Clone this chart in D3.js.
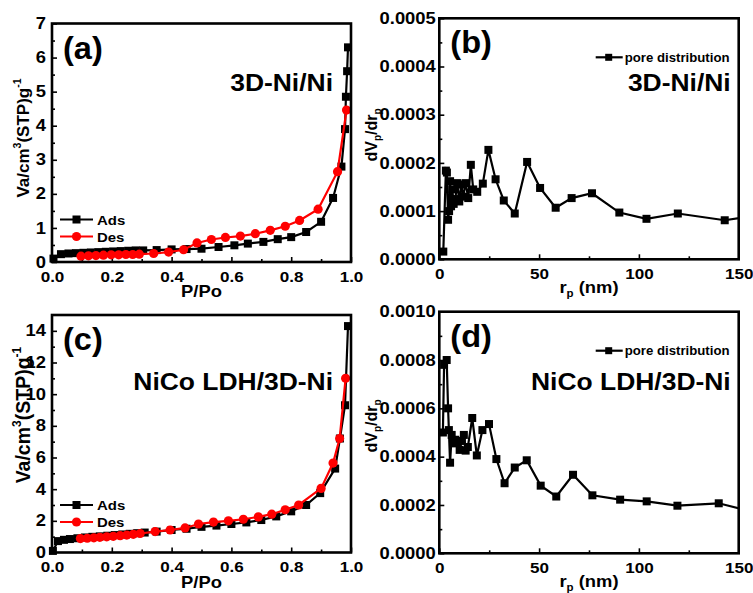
<!DOCTYPE html>
<html><head><meta charset="utf-8">
<script src="https://cdn.jsdelivr.net/npm/d3@7"></script>
<style>
body{margin:0;background:#fff}
svg{display:block}
text{font-family:"Liberation Sans",Arial,sans-serif;font-weight:bold;fill:#000}
</style>
</head><body>
<svg id="chart" width="753" height="593"></svg>
<script>
// ---------------- DATA ----------------
// (a) 3D-Ni/Ni isotherm  [P/Po, Va]
const adsA = [[0.005,0.10],[0.03,0.23],[0.055,0.25],[0.08,0.26],[0.105,0.27],[0.13,0.28],[0.155,0.29],[0.18,0.30],[0.205,0.31],[0.23,0.32],[0.255,0.33],[0.28,0.34],[0.305,0.34],[0.35,0.35],[0.40,0.37],[0.45,0.38],[0.50,0.39],[0.557,0.44],[0.61,0.49],[0.655,0.54],[0.707,0.59],[0.755,0.67],[0.80,0.73],[0.85,0.88],[0.90,1.18],[0.94,1.88],[0.968,2.8],[0.98,3.9],[0.983,4.85],[0.987,5.6],[0.99,6.3]];
const desA = [[0.985,4.46],[0.955,2.65],[0.89,1.55],[0.828,1.22],[0.78,1.05],[0.73,0.93],[0.68,0.83],[0.63,0.76],[0.58,0.72],[0.533,0.66],[0.485,0.56],[0.44,0.36],[0.39,0.29],[0.34,0.25],[0.292,0.23],[0.27,0.22],[0.247,0.22],[0.223,0.21],[0.198,0.21],[0.172,0.20],[0.147,0.19],[0.122,0.18],[0.097,0.17]];
// (c) NiCo LDH/3D-Ni isotherm
const adsC = [[0.003,0.10],[0.02,0.72],[0.04,0.80],[0.06,0.85],[0.085,0.90],[0.11,0.95],[0.135,0.99],[0.16,1.02],[0.185,1.06],[0.21,1.10],[0.235,1.14],[0.26,1.18],[0.285,1.22],[0.31,1.26],[0.35,1.32],[0.40,1.42],[0.45,1.50],[0.50,1.62],[0.55,1.70],[0.60,1.80],[0.65,1.90],[0.70,2.05],[0.75,2.28],[0.80,2.60],[0.85,3.00],[0.897,3.75],[0.947,5.30],[0.963,7.20],[0.98,9.30],[0.99,14.3]];
const desC = [[0.982,11.0],[0.962,7.2],[0.94,5.65],[0.90,4.05],[0.825,3.0],[0.78,2.7],[0.735,2.42],[0.69,2.25],[0.64,2.1],[0.59,2.0],[0.54,1.92],[0.49,1.8],[0.445,1.55],[0.395,1.42],[0.345,1.32],[0.295,1.2],[0.272,1.15],[0.25,1.1],[0.228,1.06],[0.205,1.02],[0.183,0.99],[0.16,0.96],[0.14,0.93],[0.118,0.9],[0.095,0.88]];
// (b) pore distribution 3D-Ni/Ni  [rp nm, dVp/drp]
const poreB = [[2.0,0.000016],[3.3,0.000184],[3.8,0.000180],[4.4,0.000082],[4.9,0.000100],[5.4,0.000162],[5.9,0.000110],[6.5,0.000145],[7.2,0.000115],[8.0,0.000125],[9.0,0.000158],[10.0,0.000120],[11.0,0.000155],[12.0,0.000130],[13.2,0.000158],[14.5,0.000127],[15.8,0.000196],[17.0,0.000145],[19.0,0.000140],[21.8,0.000157],[24.6,0.000227],[28.2,0.000166],[32.3,0.000122],[37.8,0.000095],[44.0,0.000202],[50.5,0.000148],[58.3,0.000107],[66.3,0.000127],[76.5,0.000137],[90.2,0.000097],[103.8,0.000084],[119.5,0.000095],[143.0,0.000081],[160.0,0.000091]];
// (d) pore distribution NiCo LDH/3D-Ni
const poreD = [[1.8,0.000500],[2.4,0.000780],[3.7,0.000800],[4.4,0.000600],[4.8,0.000510],[5.4,0.000375],[6.2,0.000490],[7.0,0.000455],[8.0,0.000470],[8.8,0.000460],[10.2,0.000428],[11.3,0.000465],[12.3,0.000490],[13.2,0.000425],[14.3,0.000440],[16.5,0.000560],[18.8,0.000405],[21.6,0.000510],[24.9,0.000535],[28.6,0.000390],[32.7,0.000290],[37.8,0.000355],[43.8,0.000385],[50.8,0.000280],[58.6,0.000235],[67.0,0.000325],[76.7,0.000240],[90.6,0.000222],[103.9,0.000215],[119.3,0.000197],[140.0,0.000207],[160.0,0.000165]];

// axis ticks
const isoXTicks = [0, 0.2, 0.4, 0.6, 0.8, 1.0];
const isoXMinor = [0.1, 0.3, 0.5, 0.7, 0.9];
const aYTicks = [0, 1, 2, 3, 4, 5, 6, 7];
const aYMinor = [0.5, 1.5, 2.5, 3.5, 4.5, 5.5, 6.5];
const cYTicks = [0, 2, 4, 6, 8, 10, 12, 14];
const cYMinor = [1, 3, 5, 7, 9, 11, 13];
const poreXTicks = [0, 50, 100, 150];
const poreXMinor = [25, 75, 125];
const bYTicks = [0, 0.0001, 0.0002, 0.0003, 0.0004, 0.0005];
const bYMinor = [0.00005, 0.00015, 0.00025, 0.00035, 0.00045];
const dYTicks = [0, 0.0002, 0.0004, 0.0006, 0.0008, 0.0010];
const dYMinor = [0.0001, 0.0003, 0.0005, 0.0007, 0.0009];

const panelLabels = ["(a)", "(b)", "(c)", "(d)"];
const sampleLabels = ["3D-Ni/Ni", "3D-Ni/Ni", "NiCo LDH/3D-Ni", "NiCo LDH/3D-Ni"];
const legendIso = ["Ads", "Des"];
const legendPore = "pore distribution";

// ---------------- DRAW ----------------
const SX = 1.15;
const RED = "#ff0000";
const svg = d3.select("#chart");

function label(g, x, y, str, size, anchor, sx) {
  return g.append("text")
    .attr("transform", `translate(${x},${y}) scale(${sx === undefined ? SX : sx},1)`)
    .attr("text-anchor", anchor).attr("font-size", size).text(str);
}
function stretch(sel, sx) {
  sel.selectAll("text").each(function () {
    const t = d3.select(this);
    const x = +t.attr("x") || 0;
    t.attr("x", 0).attr("transform", `translate(${x},0) scale(${sx},1)`);
  });
}
function styleAxis(s) {
  s.attr("font-size", 16).attr("font-family", null);
  s.select(".domain").remove();
  s.selectAll(".tick line").attr("stroke", "#000").attr("stroke-width", 1.6);
}

let clipId = 0;
function panel(cfg) {
  const x = d3.scaleLinear().domain(cfg.xDomain).range([cfg.left, cfg.right]);
  const y = d3.scaleLinear().domain(cfg.yDomain).range([cfg.bottom, cfg.top]);
  const g = svg.append("g");

  // minor ticks
  g.append("g").attr("transform", `translate(0,${cfg.bottom})`)
    .call(d3.axisBottom(x).tickValues(cfg.xMinor).tickSize(-3).tickFormat(""))
    .call(styleAxis);
  g.append("g").attr("transform", `translate(${cfg.left},0)`)
    .call(d3.axisLeft(y).tickValues(cfg.yMinor).tickSize(-3).tickFormat(""))
    .call(styleAxis);
  // major ticks
  g.append("g").attr("transform", `translate(0,${cfg.bottom})`)
    .call(d3.axisBottom(x).tickValues(cfg.xTicks).tickSize(-5).tickPadding(9).tickFormat(cfg.xFmt))
    .call(styleAxis).attr("font-size", 15.5).call(s => stretch(s, 1.1));
  g.append("g").attr("transform", `translate(${cfg.left},0)`)
    .call(d3.axisLeft(y).tickValues(cfg.yTicks).tickSize(-5).tickPadding(cfg.yPad).tickFormat(cfg.yFmt))
    .call(styleAxis).call(s => stretch(s, SX));

  // data
  const id = "clip" + (clipId++);
  g.append("clipPath").attr("id", id).append("rect")
    .attr("x", cfg.left).attr("y", cfg.top - 10).attr("width", cfg.right - cfg.left).attr("height", cfg.bottom - cfg.top + 20);
  const line = d3.line().x(d => x(d[0])).y(d => y(d[1]));
  const dg = g.append("g");
  cfg.series.forEach(s => {
    dg.append("path").datum(s.data).attr("d", line).attr("fill", "none")
      .attr("stroke", s.color).attr("stroke-width", 2.2).attr("clip-path", `url(#${id})`);
    const pts = s.data.filter(d => d[0] >= cfg.xDomain[0] && d[0] <= cfg.xDomain[1]);
    if (s.shape === "square") {
      dg.selectAll(null).data(pts).enter().append("rect")
        .attr("x", d => x(d[0]) - 4).attr("y", d => y(d[1]) - 4)
        .attr("width", 8).attr("height", 8).attr("fill", s.color);
    } else {
      dg.selectAll(null).data(pts).enter().append("circle")
        .attr("cx", d => x(d[0])).attr("cy", d => y(d[1])).attr("r", 4.6).attr("fill", s.color);
    }
  });

  // frame
  g.append("rect").attr("x", cfg.left).attr("y", cfg.top)
    .attr("width", cfg.right - cfg.left).attr("height", cfg.bottom - cfg.top)
    .attr("fill", "none").attr("stroke", "#000").attr("stroke-width", 2.6);

  // x title
  const xt = g.append("text")
    .attr("transform", `translate(${(cfg.left + cfg.right) / 2},${cfg.bottom + cfg.xTitleDy}) scale(${SX},1)`)
    .attr("text-anchor", "middle").attr("font-size", 16);
  cfg.xTitle(xt);
  // y title
  const yt = g.append("text")
    .attr("transform", `translate(${cfg.yTitleX},${cfg.yTitleY}) rotate(-90)`)
    .attr("text-anchor", "middle").attr("font-size", cfg.yTitleSize);
  cfg.yTitle(yt, cfg.yTitleSize);

  // panel label & sample label
  label(g, cfg.left + 11, cfg.top + 35, cfg.panelLabel, 31, "start", 1.05);
  label(g, cfg.right - cfg.sampleRight, cfg.sampleY, cfg.sample, cfg.sampleSize, "end");

  // legend
  if (cfg.legendType === "iso") {
    cfg.series.forEach((s, i) => {
      const ly = cfg.top + cfg.legendY + i * 17;
      const lx = cfg.left + 8;
      g.append("line").attr("x1", lx).attr("x2", lx + 33).attr("y1", ly).attr("y2", ly)
        .attr("stroke", s.color).attr("stroke-width", 2.2);
      if (s.shape === "square") g.append("rect").attr("x", lx + 12.5).attr("y", ly - 4).attr("width", 8).attr("height", 8).attr("fill", s.color);
      else g.append("circle").attr("cx", lx + 16.5).attr("cy", ly).attr("r", 4.6).attr("fill", s.color);
      label(g, lx + 37, ly + 5, legendIso[i], 13, "start");
    });
  } else {
    const ly = cfg.top + cfg.legendY;
    const lx = cfg.right - 143;
    g.append("line").attr("x1", lx).attr("x2", lx + 27).attr("y1", ly).attr("y2", ly)
      .attr("stroke", "#000").attr("stroke-width", 2.2);
    g.append("rect").attr("x", lx + 9.5).attr("y", ly - 3.5).attr("width", 7).attr("height", 7).attr("fill", "#000");
    label(g, lx + 29, ly + 4.5, legendPore, 12, "start", 1.1);
  }
}

function isoXTitle(t) { t.text("P/Po"); }
function isoYTitle(t, fs) {
  const sub = fs * 0.62, sh = fs * 0.45;
  t.append("tspan").text("Va/cm");
  t.append("tspan").attr("font-size", sub).attr("dy", -sh).text("3");
  t.append("tspan").attr("dy", sh).text("(STP)g");
  t.append("tspan").attr("font-size", sub).attr("dy", -sh).text("-1");
}
function poreXTitle(t) {
  t.append("tspan").text("r");
  t.append("tspan").attr("font-size", 10).attr("dy", 4).text("p");
  t.append("tspan").attr("dy", -4).text(" (nm)");
}
function poreYTitle(t) {
  t.append("tspan").text("dV");
  t.append("tspan").attr("font-size", 10).attr("dy", 4).text("p");
  t.append("tspan").attr("dy", -4).text("/dr");
  t.append("tspan").attr("font-size", 10).attr("dy", 4).text("p");
}

const fmtIso = d3.format(".1f");
const fmtInt = d3.format("d");
const fmt4 = d3.format(".4f");

panel({
  left: 52, right: 351, top: 23.5, bottom: 262,
  xDomain: [0, 1], yDomain: [0, 7],
  xTicks: isoXTicks, xMinor: isoXMinor, yTicks: aYTicks, yMinor: aYMinor,
  xFmt: fmtIso, yFmt: fmtInt, yPad: 6,
  xTitle: isoXTitle, yTitle: isoYTitle, xTitleDy: 35, yTitleX: 29, yTitleY: 138, yTitleSize: 17,
  panelLabel: panelLabels[0], sample: sampleLabels[0], sampleSize: 23, sampleRight: 18, sampleY: 91,
  legendType: "iso", legendY: 196,
  series: [{ data: adsA, color: "#000", shape: "square" }, { data: desA, color: RED, shape: "circle" }]
});
panel({
  left: 439.3, right: 738.7, top: 18.3, bottom: 259.3,
  xDomain: [0, 150], yDomain: [0, 0.0005],
  xTicks: poreXTicks, xMinor: poreXMinor, yTicks: bYTicks, yMinor: bYMinor,
  xFmt: fmtInt, yFmt: fmt4, yPad: 3.5,
  xTitle: poreXTitle, yTitle: poreYTitle, xTitleDy: 34, yTitleX: 377, yTitleY: 135, yTitleSize: 16,
  panelLabel: panelLabels[1], sample: sampleLabels[1], sampleSize: 23, sampleRight: 8, sampleY: 91,
  legendType: "pore", legendY: 39,
  series: [{ data: poreB, color: "#000", shape: "square" }]
});
panel({
  left: 52, right: 351, top: 315, bottom: 552.5,
  xDomain: [0, 1], yDomain: [0, 15],
  xTicks: isoXTicks, xMinor: isoXMinor, yTicks: cYTicks, yMinor: cYMinor,
  xFmt: fmtIso, yFmt: fmtInt, yPad: 6,
  xTitle: isoXTitle, yTitle: isoYTitle, xTitleDy: 35, yTitleX: 30, yTitleY: 415, yTitleSize: 19.5,
  panelLabel: panelLabels[2], sample: sampleLabels[2], sampleSize: 23, sampleRight: 18, sampleY: 390,
  legendType: "iso", legendY: 190,
  series: [{ data: adsC, color: "#000", shape: "square" }, { data: desC, color: RED, shape: "circle" }]
});
panel({
  left: 439.3, right: 738.7, top: 311.7, bottom: 553.3,
  xDomain: [0, 150], yDomain: [0, 0.0010],
  xTicks: poreXTicks, xMinor: poreXMinor, yTicks: dYTicks, yMinor: dYMinor,
  xFmt: fmtInt, yFmt: fmt4, yPad: 3.5,
  xTitle: poreXTitle, yTitle: poreYTitle, xTitleDy: 34, yTitleX: 377, yTitleY: 426, yTitleSize: 16,
  panelLabel: panelLabels[3], sample: sampleLabels[3], sampleSize: 23, sampleRight: 8, sampleY: 390,
  legendType: "pore", legendY: 39,
  series: [{ data: poreD, color: "#000", shape: "square" }]
});
</script>
</body></html>
